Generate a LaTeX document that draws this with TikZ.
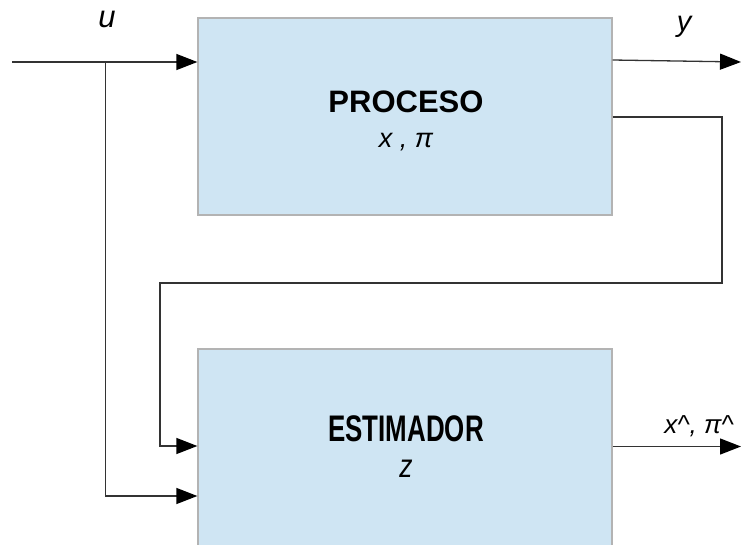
\documentclass[tikz,border=0pt]{standalone}
\usepackage{fontspec}
\setmainfont{Liberation Sans}
\usetikzlibrary{arrows.meta,calc}
\definecolor{boxfill}{HTML}{CFE5F3}
\definecolor{boxline}{HTML}{B3B3B3}
\definecolor{wire}{HTML}{333333}
\tikzset{
  block/.style={draw=boxline, fill=boxfill, line width=1.3pt,
    minimum width=414pt, minimum height=197pt, inner sep=0pt},
  wireline/.style={draw=wire, line width=1.3pt},
  feed/.style={wireline, -{Triangle[length=21pt,width=16pt,color=black]}},
  title/.style={font=\fontsize{31}{31}\selectfont\bfseries, anchor=base, inner sep=0pt},
  var/.style={font=\fontsize{27}{27}\selectfont\itshape, anchor=base, inner sep=0pt},
}
\begin{document}
\begin{tikzpicture}[x=1pt,y=-1pt]
\useasboundingbox (0,0) rectangle (741,544);
\clip (0,0) rectangle (741,544);

% blocks (the estimator runs past the lower edge)
\node[block] (proc) at (405,116.5) {};
\node[block] (est)  at (405,447.5) {};

% block texts
\node[title] (proctitle) at (406,112) {PROCESO};
\node[var]   (procvars)  at (406,147) {x , π};
\node[title, font=\fontsize{37}{37}\selectfont\bfseries, xscale=0.7] (esttitle) at (406,441) {ESTIMADOR};
\node[var, font=\fontsize{33}{33}\selectfont\itshape, xscale=0.8] (estvars) at (406,477) {z};

% signal labels
\node[var, font=\fontsize{31}{31}\selectfont\itshape] (ulabel) at (107,27) {u};
\node[var, font=\fontsize{29}{29}\selectfont\itshape] (ylabel) at (684,31) {y};
\node[var, font=\fontsize{26}{26}\selectfont\itshape] (xplabel) at (699,433) {x\^{}, π\^{}};

% wiring points
\coordinate (uin)    at (12,62);
\coordinate (usplit) at (105.7,62);
\coordinate (ulow)   at (105.7,496);
\coordinate (yout)   at (741,62);
\coordinate (fbA)    at (722,117);
\coordinate (fbB)    at (722,283);
\coordinate (fbC)    at (160,283);
\coordinate (fbD)    at (160,446);
\coordinate (zout)   at (741,446.5);

% input u
\draw[feed] (uin) -- (proc.west |- uin);
\draw[feed] (usplit) -- (ulow) -- (est.west |- ulow);

% output y
\draw[feed] ($(proc.east)+(0,-56.5)$) -- (yout);

% feedback y -> estimator
\draw[feed] (proc.east |- fbA) -- (fbA) -- (fbB) -- (fbC) -- (fbD) -- (est.west |- fbD);

% estimates
\draw[feed] (est.east |- zout) -- (zout);
\end{tikzpicture}
\end{document}
